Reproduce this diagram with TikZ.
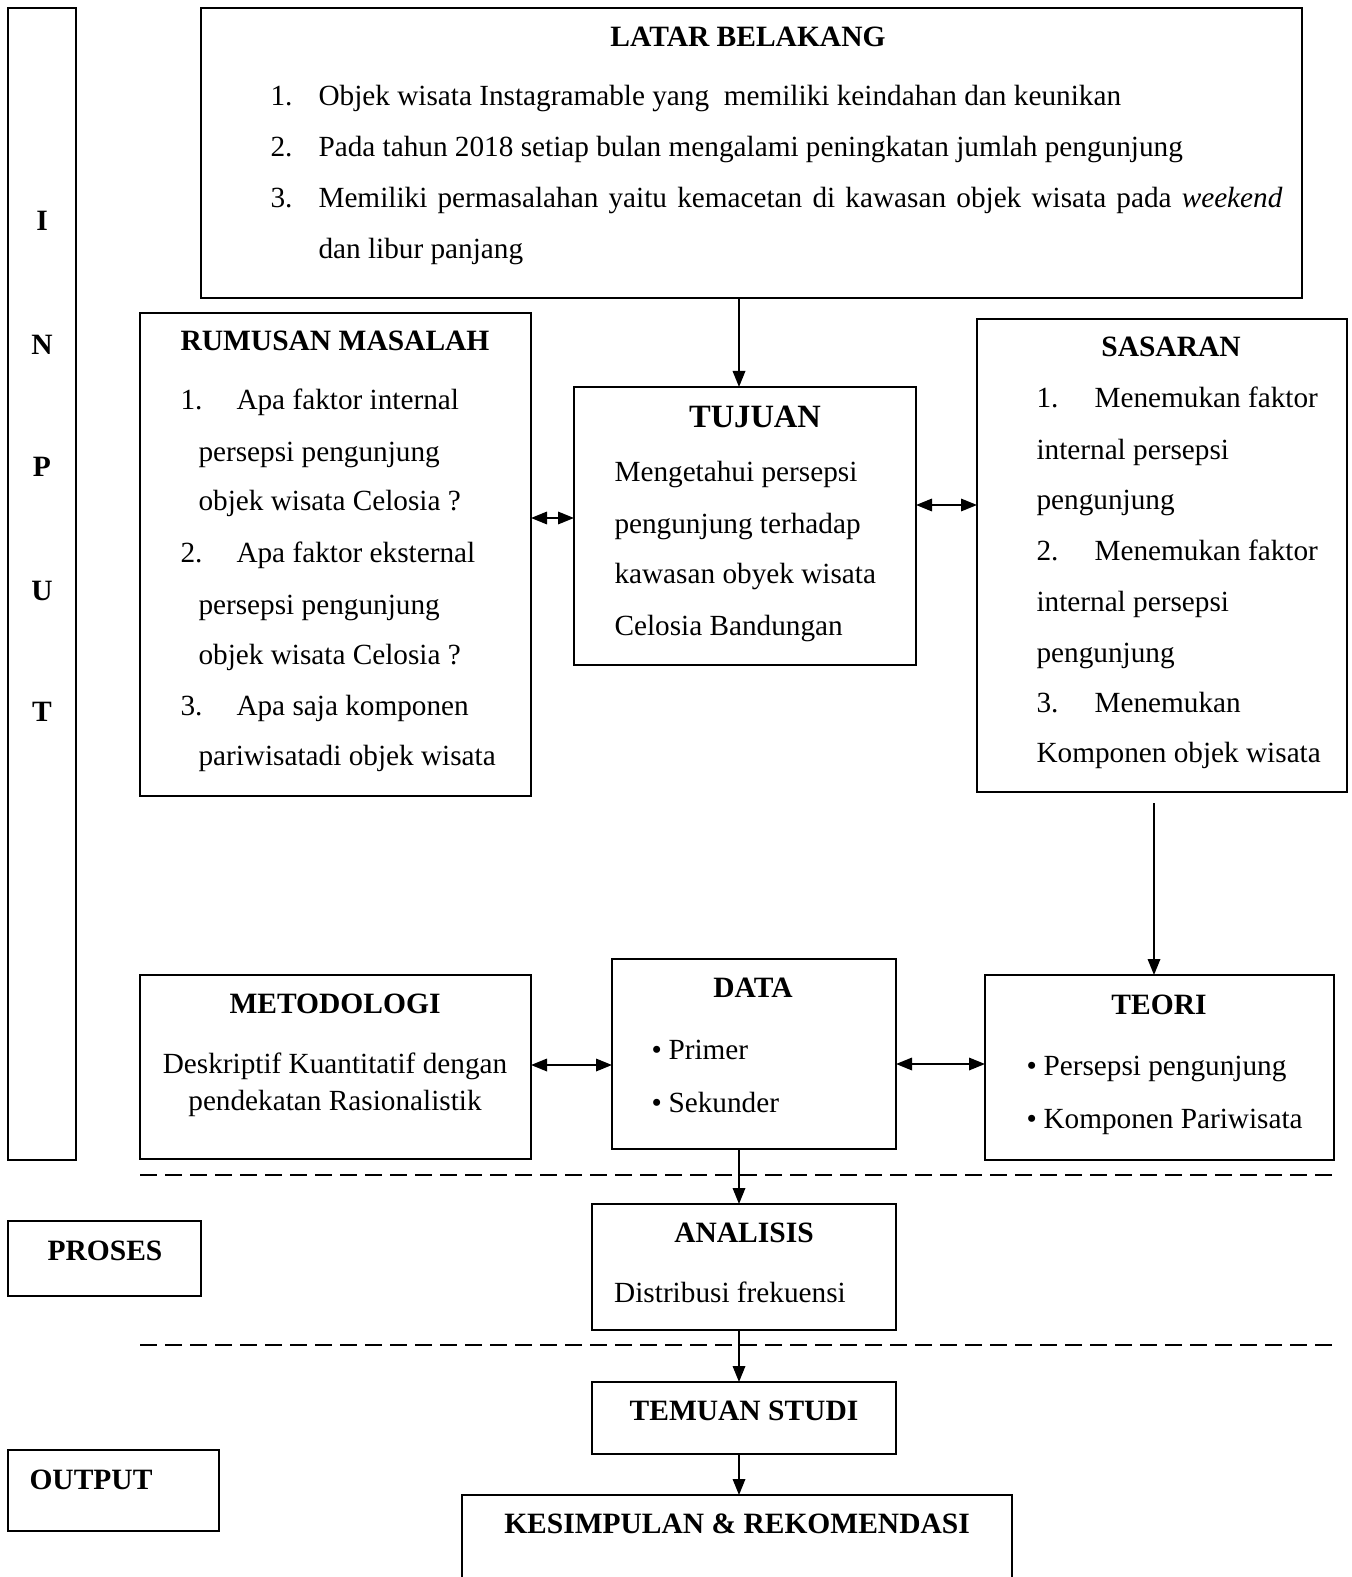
\documentclass[tikz,border=0pt]{standalone}
\usepackage{fontspec}
\setmainfont{Liberation Serif}
\usetikzlibrary{arrows.meta}
\newcommand\mybox[5]{\node[box,minimum width=#4*0.4pt,minimum height=#5*0.4pt] (#1) at (#2,#3) {};}
\begin{document}
\begin{tikzpicture}[x=0.4pt,y=-0.4pt,
  box/.style={draw,line width=0.8pt,inner sep=0pt,outer sep=0pt},
  t/.style={anchor=base west,inner sep=0pt,font=\fontsize{11.7}{14}\selectfont},
  tc/.style={anchor=base,inner sep=0pt,font=\fontsize{11.7}{14}\selectfont},
  tb/.style={anchor=base,inner sep=0pt,font=\fontsize{11.8}{14}\selectfont\bfseries},
  arr/.style={line width=0.7pt,-{Triangle[length=6.4pt,width=5pt]}},
  darr/.style={line width=0.7pt,{Triangle[length=6.4pt,width=5pt]}-{Triangle[length=6.4pt,width=5pt]}},
  dline/.style={line width=1pt,dash pattern=on 6.8pt off 3.2pt}]
\useasboundingbox (0,0) rectangle (1351,1577);
\clip (0,0) rectangle (1351,1577);
% boxes
\mybox{inp}{42}{584}{68}{1152}
\mybox{lat}{751.5}{153}{1101}{290}
\mybox{rum}{335.5}{554.5}{391}{483}
\mybox{tuj}{745}{526}{342}{278}
\mybox{sas}{1162}{555.5}{370}{473}
\mybox{met}{335.5}{1067}{391}{184}
\mybox{dat}{754}{1054}{284}{190}
\mybox{teo}{1159.5}{1067.5}{349}{185}
\mybox{ana}{744}{1267}{304}{126}
\mybox{pro}{104.5}{1258.5}{193}{75}
\mybox{tem}{744}{1418}{304}{72}
\mybox{out}{113.5}{1490.5}{211}{81}
\mybox{kes}{737}{1557.5}{550}{125}
% INPUT letters
\node[tb] (i1) at (42,231) {I};
\node[tb] (i2) at (42,355) {N};
\node[tb] (i3) at (42,477) {P};
\node[tb] (i4) at (42,600) {U};
\node[tb] (i5) at (42,721) {T};
% LATAR BELAKANG
\node[tb] (latt) at (748,47) {LATAR BELAKANG};
\node[t] (ln1) at (270,106) {1.};
\node[t] (lt1) at (318,106) {Objek wisata Instagramable yang\ \ memiliki keindahan dan keunikan};
\node[t] (ln2) at (270,157) {2.};
\node[t] (lt2) at (318,157) {Pada tahun 2018 setiap bulan mengalami peningkatan jumlah pengunjung};
\node[t] (ln3) at (270,208) {3.};
\node[t] (lt3) at (318,208) {\makebox[385.6pt][s]{Memiliki permasalahan yaitu kemacetan di kawasan objek wisata pada \textit{weekend}}};
\node[t] (lt4) at (318,259) {dan libur panjang};
% RUMUSAN MASALAH
\node[tb] (rumt) at (335,351) {RUMUSAN MASALAH};
\node[t] (rn1) at (180,410) {1.};
\node[t] (rt1) at (236,410) {Apa faktor internal};
\node[t] (rt2) at (198,462) {persepsi pengunjung};
\node[t] (rt3) at (198,511) {objek wisata Celosia ?};
\node[t] (rn2) at (180,562) {2.};
\node[t] (rt4) at (236,562) {Apa faktor eksternal};
\node[t] (rt5) at (198,614) {persepsi pengunjung};
\node[t] (rt6) at (198,664) {objek wisata Celosia ?};
\node[t] (rn3) at (180,715) {3.};
\node[t] (rt7) at (236,715) {Apa saja komponen};
\node[t] (rt8) at (198,765) {pariwisatadi objek wisata};
% TUJUAN
\node[tb,font=\fontsize{13}{15}\selectfont\bfseries] (tujt) at (755,428) {TUJUAN};
\node[t] (tt1) at (614,482) {Mengetahui persepsi};
\node[t] (tt2) at (614,533) {pengunjung terhadap};
\node[t] (tt3) at (614,583) {kawasan obyek wisata};
\node[t] (tt4) at (614,635) {Celosia Bandungan};
% SASARAN
\node[tb] (sast) at (1171,357) {SASARAN};
\node[t] (sn1) at (1036,408) {1.};
\node[t] (st1) at (1094,408) {Menemukan faktor};
\node[t] (st2) at (1036,460) {internal persepsi};
\node[t] (st3) at (1036,510) {pengunjung};
\node[t] (sn2) at (1036,560) {2.};
\node[t] (st4) at (1094,560) {Menemukan faktor};
\node[t] (st5) at (1036,611) {internal persepsi};
\node[t] (st6) at (1036,662) {pengunjung};
\node[t] (sn3) at (1036,712) {3.};
\node[t] (st7) at (1094,712) {Menemukan};
\node[t] (st8) at (1036,762) {Komponen objek wisata};
% METODOLOGI
\node[tb] (mett) at (335,1013) {METODOLOGI};
\node[tc] (mt1) at (335,1073) {Deskriptif Kuantitatif dengan};
\node[tc] (mt2) at (335,1110) {pendekatan Rasionalistik};
% DATA
\node[tb] (datt) at (753,997) {DATA};
\node[t] (db1) at (651,1059) {•};
\node[t] (dt1) at (668,1059) {Primer};
\node[t] (db2) at (651,1112) {•};
\node[t] (dt2) at (668,1112) {Sekunder};
% TEORI
\node[tb] (teot) at (1159,1014) {TEORI};
\node[t] (eb1) at (1026,1075) {•};
\node[t] (et1) at (1043,1075) {Persepsi pengunjung};
\node[t] (eb2) at (1026,1128) {•};
\node[t] (et2) at (1043,1128) {Komponen Pariwisata};
% ANALISIS
\node[tb] (anat) at (744,1242) {ANALISIS};
\node[tc] (ant1) at (730,1302) {Distribusi frekuensi};
% PROSES, TEMUAN, OUTPUT, KESIMPULAN
\node[tb] (prot) at (105,1260) {PROSES};
\node[tb] (temt) at (744,1420) {TEMUAN STUDI};
\node[tb,anchor=base west] (outt) at (29,1489) {OUTPUT};
\node[tb] (kest) at (737,1533) {KESIMPULAN \& REKOMENDASI};
% dashed separators
\draw[dline] (140,1175) -- (1333,1175);
\draw[dline] (140,1345) -- (1333,1345);
% connectors
\coordinate (cx) at (739,0);
\coordinate (cs) at (1154,0);
\coordinate (y1) at (0,518);
\coordinate (y2) at (0,505);
\coordinate (y3) at (0,1065);
\coordinate (y4) at (0,1064);
\draw[arr] (cx |- lat.south) -- (cx |- tuj.north);
\draw[darr] (rum.east |- y1) -- (tuj.west |- y1);
\draw[darr] (tuj.east |- y2) -- (sas.west |- y2);
\draw[arr] ([yshift=-4.4pt]cs |- sas.south) -- (cs |- teo.north);
\draw[darr] (met.east |- y3) -- (dat.west |- y3);
\draw[darr] (dat.east |- y4) -- (teo.west |- y4);
\draw[arr] (cx |- dat.south) -- (cx |- ana.north);
\draw[arr] (cx |- ana.south) -- (cx |- tem.north);
\draw[arr] (cx |- tem.south) -- (cx |- kes.north);
\end{tikzpicture}
\end{document}
